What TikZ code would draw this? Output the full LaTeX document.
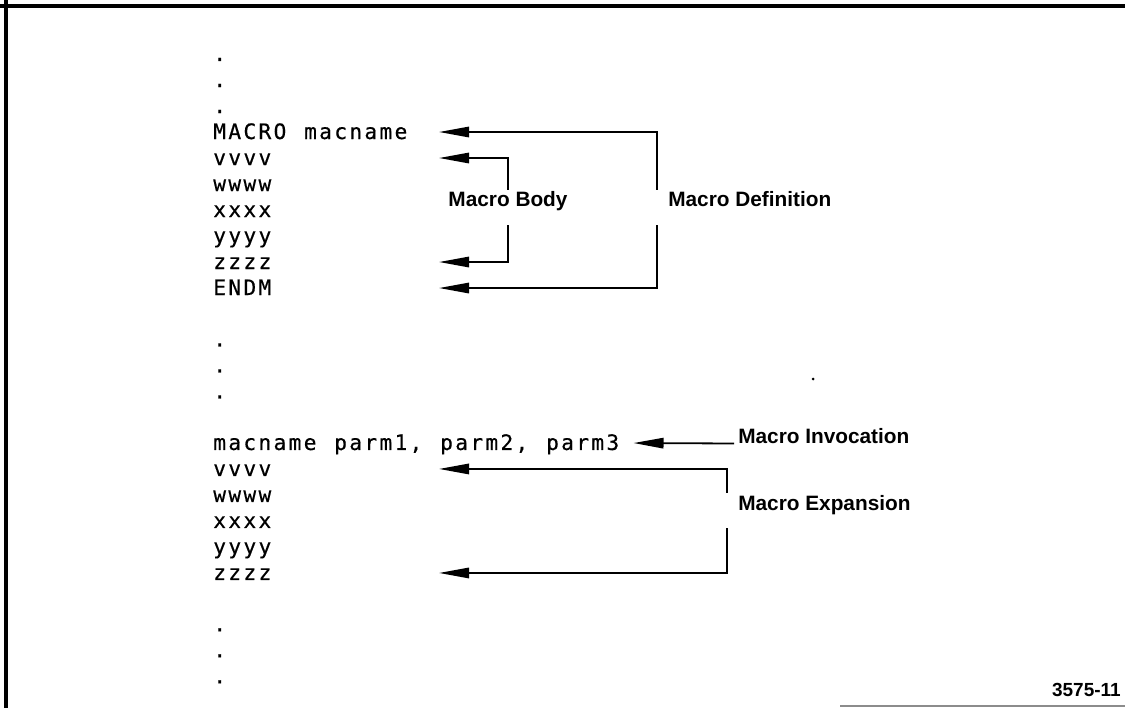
\documentclass[tikz,border=0pt]{standalone}
\usepackage{fontspec}
\setmainfont{Liberation Sans}
\newfontfamily\codefont{DejaVu Sans Mono}[LetterSpace=10.8,WordSpace=1.18,FakeBold=0.5]
\usetikzlibrary{arrows.meta, positioning}
\tikzset{
  code/.style={font=\codefont\fontsize{15.1}{18}\selectfont, inner xsep=0pt,
    inner ysep=0pt, text height=4.93mm, text depth=1.43mm},
  under/.style={below=0pt of #1.south west, anchor=north west},
  skipunder/.style={below=6.365mm of #1.south west, anchor=north west},
  note/.style={font=\bfseries\fontsize{14.8}{17}\selectfont, inner sep=1mm,
    text height=3.25mm, text depth=3.5mm},
  tag/.style={font=\bfseries\fontsize{13.5}{16}\selectfont, inner sep=0pt},
  arrow/.style={-{Triangle[length=7.5mm, width=2.6mm]}, line width=0.45mm},
  frame/.style={line width=0.8mm}
}
\begin{document}
\begin{tikzpicture}[x=0.25mm, y=-0.25mm]
  \useasboundingbox (0,0) rectangle (1125,708);
  \draw[frame] (0,6) -- (1125,6);
  \draw[frame] (6,0) -- (6,708);
  \draw[line width=0.5mm, black!45] (840,706) -- (1125,706);

  \node[code, anchor=base west] (dotA) at (213,61) {.};
  \node[code, under=dotA] (dotB) {.};
  \node[code, under=dotB] (dotC) {.};
  \node[code, under=dotC] (macro) {MACRO macname};
  \node[code, under=macro] (vvvv) {vvvv};
  \node[code, under=vvvv] (wwww) {wwww};
  \node[code, under=wwww] (xxxx) {xxxx};
  \node[code, under=xxxx] (yyyy) {yyyy};
  \node[code, under=yyyy] (zzzz) {zzzz};
  \node[code, under=zzzz] (endm) {ENDM};
  \node[code, skipunder=endm] (dotD) {.};
  \node[code, under=dotD] (dotE) {.};
  \node[code, under=dotE] (dotF) {.};
  \node[code, skipunder=dotF] (parms) {macname parm1, parm2, parm3};
  \node[code, under=parms] (vvvvB) {vvvv};
  \node[code, under=vvvvB] (wwwwB) {wwww};
  \node[code, under=wwwwB] (xxxxB) {xxxx};
  \node[code, under=xxxxB] (yyyyB) {yyyy};
  \node[code, under=yyyyB] (zzzzB) {zzzz};
  \node[code, skipunder=zzzzB] (dotG) {.};
  \node[code, under=dotG] (dotH) {.};
  \node[code, under=dotH] (dotI) {.};

  \coordinate (tipcol) at (439,0);
  \coordinate (defcol) at (657,0);
  \coordinate (expcol) at (727,0);

  \node[note, anchor=base] (body) at (508,207) {Macro Body};
  \node[note, anchor=base west] (defn) at (664,207) {Macro Definition};
  \node[note, anchor=base west] (invoc) at (734,443) {Macro Invocation};
  \node[note, anchor=base west] (expn) at (734,510) {Macro Expansion};
  \node[tag, anchor=base east] (fignum) at (1121,696) {3575-11};

  \draw[arrow] (body.north) |- (vvvv -| tipcol);
  \draw[arrow] (body.south) |- (zzzz -| tipcol);
  \draw[arrow] (defcol |- body.north) |- (macro -| tipcol);
  \draw[arrow] (defcol |- body.south) |- (endm -| tipcol);
  \draw[arrow, shorten >=3.5mm] (invoc.west) -- (parms.east);
  \draw[arrow] (expcol |- expn.north) |- (vvvvB -| tipcol);
  \draw[arrow] (expcol |- expn.south) |- (zzzzB -| tipcol);

  \fill (813,379) circle (1.5);
\end{tikzpicture}
\end{document}
